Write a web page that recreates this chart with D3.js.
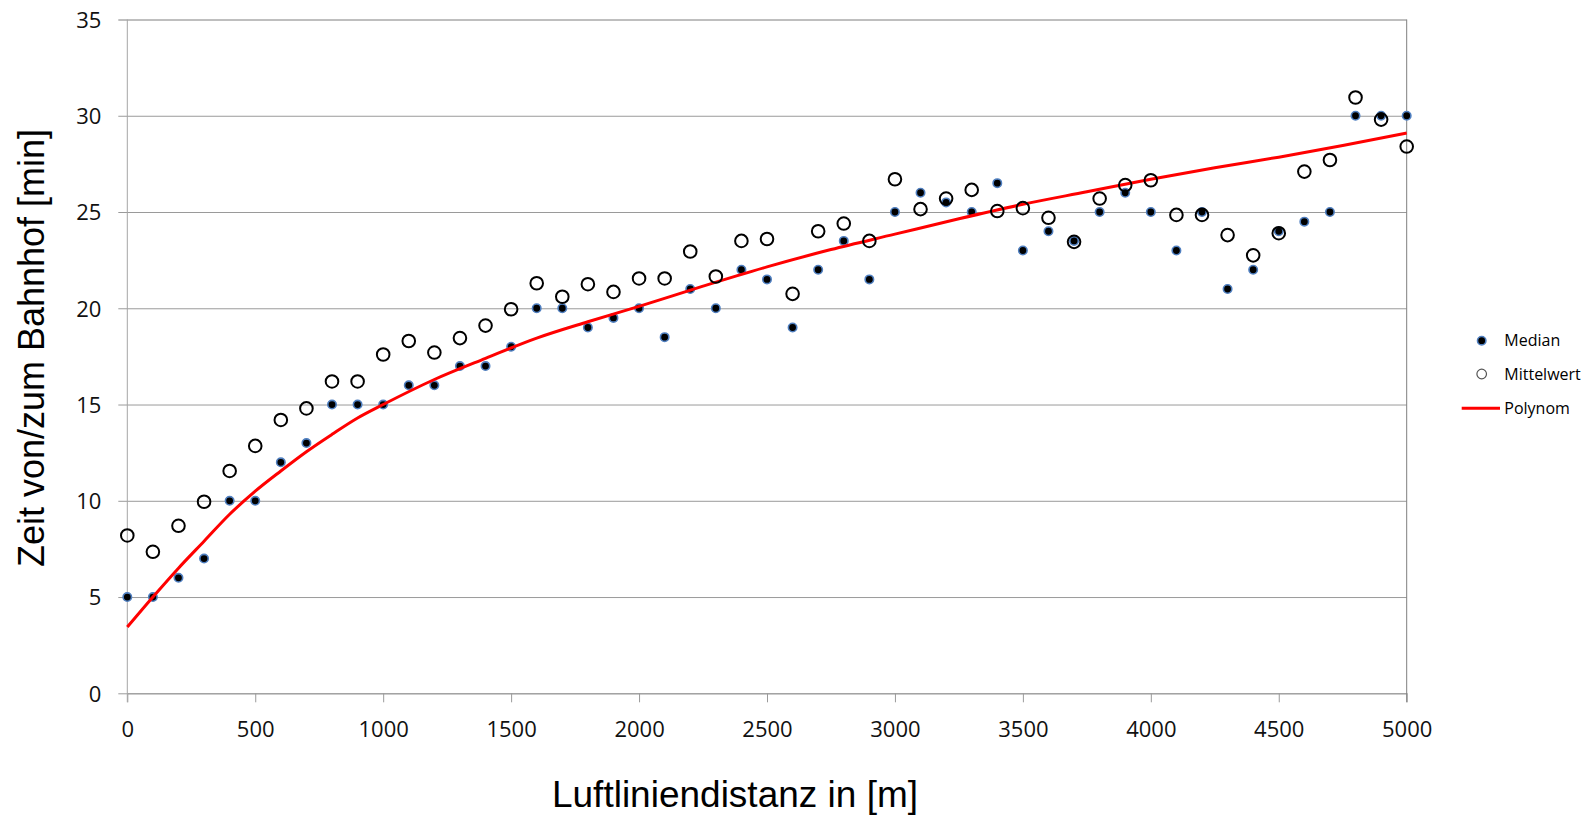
<!DOCTYPE html>
<html>
<head>
<meta charset="utf-8">
<script src="https://cdn.jsdelivr.net/npm/d3@7"></script>
<style>
  body { margin: 0; background: #fff; }
  svg { display: block; }
</style>
</head>
<body>
<div id="container"></div>
<script>
var width = 1595,
    height = 815;

// distance steps in metres
var distances = d3.range(0, 5001, 100);

var median = [5, 5, 6, 7, 10, 10, 12, 13, 15, 15,
  15, 16, 16, 17, 17, 18, 20, 20, 19, 19.5,
  20, 18.5, 21, 20, 22, 21.5, 19, 22, 23.5, 21.5,
  25, 26, 25.5, 25, 26.5, 23, 24, 23.5, 25, 26,
  25, 23, 25, 21, 22, 24, 24.5, 25, 30, 30,
  30];

var mittelwert = [8.2, 7.35, 8.7, 9.95, 11.55, 12.85, 14.2, 14.8, 16.2, 16.2,
  17.6, 18.3, 17.7, 18.45, 19.1, 19.95, 21.3, 20.6, 21.25, 20.85,
  21.55, 21.55, 22.95, 21.65, 23.5, 23.6, 20.75, 24.0, 24.4, 23.5,
  26.7, 25.15, 25.7, 26.15, 25.05, 25.2, 24.7, 23.45, 25.7, 26.4,
  26.65, 24.85, 24.85, 23.8, 22.75, 23.9, 27.1, 27.7, 30.95, 29.8,
  28.4];

var polyX = [0, 100, 200, 300, 400, 500, 600, 700, 800, 900, 1000, 1200, 1400, 1600, 1800, 2000,
  2250, 2500, 2750, 3000, 3250, 3500, 3750, 4000, 4250, 4500, 4750, 5000];
var polyY = [3.44, 5.0, 6.5, 7.9, 9.3, 10.5, 11.55, 12.55, 13.45, 14.3, 15.0, 16.3, 17.4, 18.45, 19.3, 20.1,
  21.15, 22.15, 23.05, 23.85, 24.65, 25.4, 26.05, 26.7, 27.3, 27.85, 28.45, 29.1];

var xTicks = d3.range(0, 5001, 500);
var yTicks = d3.range(0, 36, 5);

var plotLeft = 127.3, plotRight = 1406.7, plotTop = 19.5, plotBottom = 693.3;
var w = plotRight - plotLeft, h = plotBottom - plotTop;

var svg = d3.select("#container").append("svg")
  .attr("width", width)
  .attr("height", height);

var x = d3.scaleLinear().domain([0, 5000]).range([0, w]);
var y = d3.scaleLinear().domain([0, 35]).range([h, 0]);

var g = svg.append("g").attr("transform", "translate(" + plotLeft + "," + plotTop + ")");

// y axis with gridlines
var yAxis = g.append("g")
  .call(d3.axisLeft(y).tickValues(yTicks).tickSizeInner(-w).tickSizeOuter(0));
yAxis.select(".domain").remove();
yAxis.selectAll(".tick line")
  .attr("x1", -9)
  .attr("stroke", function(d) { return d === 35 ? "#7f7f7f" : "#9a9a9a"; });
yAxis.selectAll(".tick text")
  .attr("x", -26)
  .attr("dy", "0.36em")
  .style("font-family", "'Open Sans', sans-serif")
  .style("font-size", "22px")
  .attr("fill", "#111");

// x axis
var xAxis = g.append("g")
  .attr("transform", "translate(0," + h + ")")
  .call(d3.axisBottom(x).tickValues(xTicks).tickFormat(d3.format("d")).tickSize(9).tickSizeOuter(0));
xAxis.select(".domain").attr("stroke", "#9a9a9a");
xAxis.selectAll(".tick line").attr("stroke", "#9a9a9a");
xAxis.selectAll(".tick text")
  .attr("y", 43.5)
  .attr("dy", 0)
  .style("font-family", "'Open Sans', sans-serif")
  .style("font-size", "22px")
  .attr("fill", "#111");

// left axis line and right border
g.append("line").attr("x1", 0).attr("x2", 0).attr("y1", 0).attr("y2", h + 9)
  .attr("stroke", "#a6a6a6");
g.append("line").attr("x1", w).attr("x2", w).attr("y1", 0).attr("y2", h + 9)
  .attr("stroke", "#7f7f7f");

// median dots
g.append("g").selectAll("circle")
  .data(median)
  .enter().append("circle")
  .attr("cx", function(d, i) { return x(distances[i]); })
  .attr("cy", function(d) { return y(d); })
  .attr("r", 4.2)
  .attr("fill", "#000")
  .attr("stroke", "#4f7fc0")
  .attr("stroke-width", 1.6);

// trend line
var line = d3.line()
  .x(function(d, i) { return x(polyX[i]); })
  .y(function(d) { return y(d); })
  .curve(d3.curveMonotoneX);
g.append("path")
  .datum(polyY)
  .attr("d", line)
  .attr("fill", "none")
  .attr("stroke", "#ff0000")
  .attr("stroke-width", 3);

// mean circles
g.append("g").selectAll("circle")
  .data(mittelwert)
  .enter().append("circle")
  .attr("cx", function(d, i) { return x(distances[i]); })
  .attr("cy", function(d) { return y(d); })
  .attr("r", 6.3)
  .attr("fill", "none")
  .attr("stroke", "#000")
  .attr("stroke-width", 2);

// axis titles
svg.append("text")
  .attr("x", 735)
  .attr("y", 807)
  .attr("text-anchor", "middle")
  .style("font-family", "'Liberation Sans', Arial, sans-serif")
  .style("font-size", "37px")
  .text("Luftliniendistanz in [m]");

svg.append("text")
  .attr("transform", "translate(44,348) rotate(-90)")
  .attr("text-anchor", "middle")
  .style("font-family", "'Liberation Sans', Arial, sans-serif")
  .style("font-size", "36px")
  .text("Zeit von/zum Bahnhof [min]");

// legend
var legend = svg.append("g").attr("transform", "translate(1481.7,0)")
  .style("font-family", "'Open Sans', sans-serif")
  .style("font-size", "16px");
legend.append("circle").attr("cx", 0).attr("cy", 340.7).attr("r", 4.2)
  .attr("fill", "#000").attr("stroke", "#4f7fc0").attr("stroke-width", 1.6);
legend.append("text").attr("x", 22.6).attr("y", 346).text("Median");
legend.append("circle").attr("cx", 0).attr("cy", 374).attr("r", 4.8)
  .attr("fill", "none").attr("stroke", "#555").attr("stroke-width", 1.2);
legend.append("text").attr("x", 22.6).attr("y", 380).text("Mittelwert");
legend.append("line").attr("x1", -20).attr("x2", 18.3).attr("y1", 408.3).attr("y2", 408.3)
  .attr("stroke", "#ff0000").attr("stroke-width", 3);
legend.append("text").attr("x", 22.6).attr("y", 414).text("Polynom");
</script>
</body>
</html>
